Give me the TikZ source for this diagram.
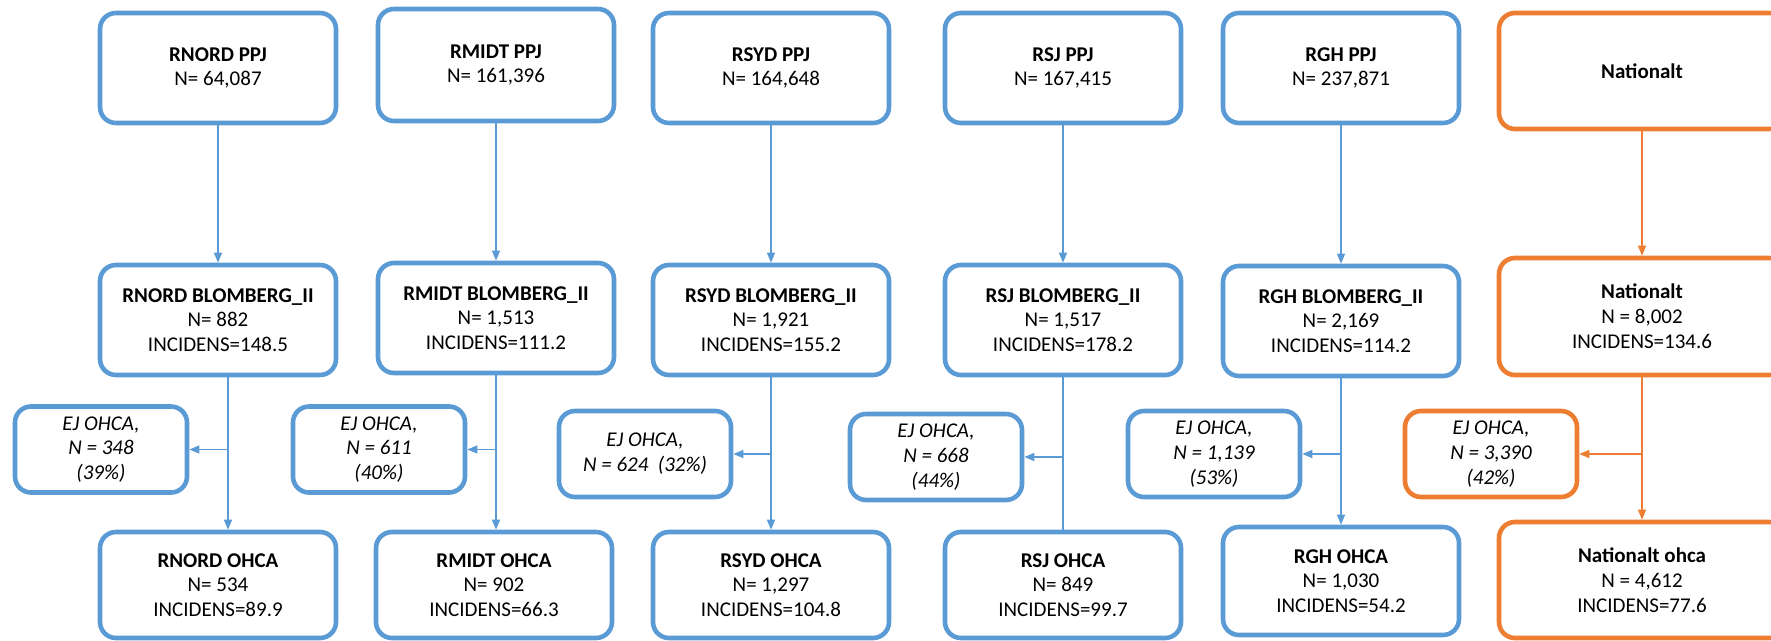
\documentclass[tikz,border=0pt]{standalone}
\usepackage{fontspec}
\setmainfont{Carlito}
\usetikzlibrary{arrows.meta}

\definecolor{regblue}{RGB}{91,155,213}
\definecolor{natorange}{RGB}{237,125,49}

\tikzset{every picture/.style={line width=0.75pt}}
\tikzset{
  cohort/.style={draw=regblue, line width=2.3pt, rounded corners=8pt, fill=white, align=center,
    inner sep=0pt, minimum width=118pt, minimum height=55pt, font=\fontsize{10.5}{12.4}\selectfont},
  excl/.style={cohort, minimum width=86pt, minimum height=43pt, font=\fontsize{10.5}{12.4}\selectfont\itshape},
  nat/.style={draw=natorange},
  flow/.style={draw=regblue, line width=0.75pt, -{Triangle[length=5pt,width=4pt]}},
  natflow/.style={flow, draw=natorange},
}

\begin{document}
\begin{tikzpicture}[x=0.5pt,y=0.5pt,yscale=-1,xscale=1]
\useasboundingbox (0,0) rectangle (1771,641);

% PPJ row
\node[cohort] (ppjN) at (218,68) {\textbf{RNORD PPJ}\\N= 64,087};
\node[cohort, minimum height=56pt] (ppjM) at (496,65) {\textbf{RMIDT PPJ}\\N= 161,396};
\node[cohort] (ppjS) at (771,68) {\textbf{RSYD PPJ}\\N= 164,648};
\node[cohort] (ppjJ) at (1063,68) {\textbf{RSJ PPJ}\\N= 167,415};
\node[cohort] (ppjH) at (1341,68) {\textbf{RGH PPJ}\\N= 237,871};
\node[cohort, nat, minimum width=143pt, minimum height=58pt] (ppjNat) at (1642,71) {\textbf{Nationalt}};

% Blomberg row
\node[cohort] (bloN) at (218,320) {\textbf{RNORD BLOMBERG\_II}\\N= 882\\INCIDENS=148.5};
\node[cohort] (bloM) at (496,318) {\textbf{RMIDT BLOMBERG\_II}\\N= 1,513\\INCIDENS=111.2};
\node[cohort] (bloS) at (771,320) {\textbf{RSYD BLOMBERG\_II}\\N= 1,921\\INCIDENS=155.2};
\node[cohort] (bloJ) at (1063,320) {\textbf{RSJ BLOMBERG\_II}\\N= 1,517\\INCIDENS=178.2};
\node[cohort] (bloH) at (1341,321) {\textbf{RGH BLOMBERG\_II}\\N= 2,169\\INCIDENS=114.2};
\node[cohort, nat, minimum width=143pt, minimum height=58.5pt] (bloNat) at (1642,316.5) {\textbf{Nationalt}\\N = 8,002\\INCIDENS=134.6};

% excluded
\node[excl] (ejN) at (101,449.5) {EJ OHCA,\\N = 348\\(39\%)};
\node[excl] (ejM) at (379,449.5) {EJ OHCA,\\N = 611\\(40\%)};
\node[excl] (ejS) at (645,454) {EJ OHCA,\\N = 624~ (32\%)};
\node[excl] (ejJ) at (936,457) {EJ OHCA,\\N = 668\\(44\%)};
\node[excl] (ejH) at (1214,454) {EJ OHCA,\\N = 1,139\\(53\%)};
\node[excl, nat] (ejNat) at (1491,454) {EJ OHCA,\\N = 3,390\\(42\%)};

% OHCA row
\node[cohort, minimum height=53pt] (ohcaN) at (218,585) {\textbf{RNORD OHCA}\\N= 534\\INCIDENS=89.9};
\node[cohort, minimum height=53pt] (ohcaM) at (494,585) {\textbf{RMIDT OHCA}\\N= 902\\INCIDENS=66.3};
\node[cohort, minimum height=53pt] (ohcaS) at (771,585) {\textbf{RSYD OHCA}\\N= 1,297\\INCIDENS=104.8};
\node[cohort, minimum height=53pt] (ohcaJ) at (1063,585) {\textbf{RSJ OHCA}\\N= 849\\INCIDENS=99.7};
\node[cohort, minimum height=54pt] (ohcaH) at (1341,581) {\textbf{RGH OHCA}\\N= 1,030\\INCIDENS=54.2};
\node[cohort, nat, minimum width=143pt, minimum height=58pt] (ohcaNat) at (1642,580) {\textbf{Nationalt ohca}\\N = 4,612\\INCIDENS=77.6};

% PPJ -> Blomberg
\foreach \c in {N,M,S,J,H} {
  \draw[flow] (ppj\c) -- (blo\c);
}
\draw[natflow] (ppjNat) -- (bloNat);

% Blomberg -> OHCA, side branch to EJ OHCA
\coordinate (jN) at ([xshift=5pt]bloN.south);
\foreach \c in {M,S,J,H,Nat} {
  \coordinate (j\c) at (blo\c.south);
}
\foreach \c in {N,M,S,H} {
  \draw[flow] (j\c) -- (j\c |- ohca\c.north);
  \draw[flow] (j\c |- ej\c.east) -- (ej\c.east);
}
\draw[draw=regblue] (jJ) -- (jJ |- ohcaJ.north);
\draw[flow] (jJ |- ejJ.east) -- (ejJ.east);
\draw[natflow] (jNat) -- (jNat |- ohcaNat.north);
\draw[natflow] (jNat |- ejNat.east) -- (ejNat.east);

\end{tikzpicture}
\end{document}
